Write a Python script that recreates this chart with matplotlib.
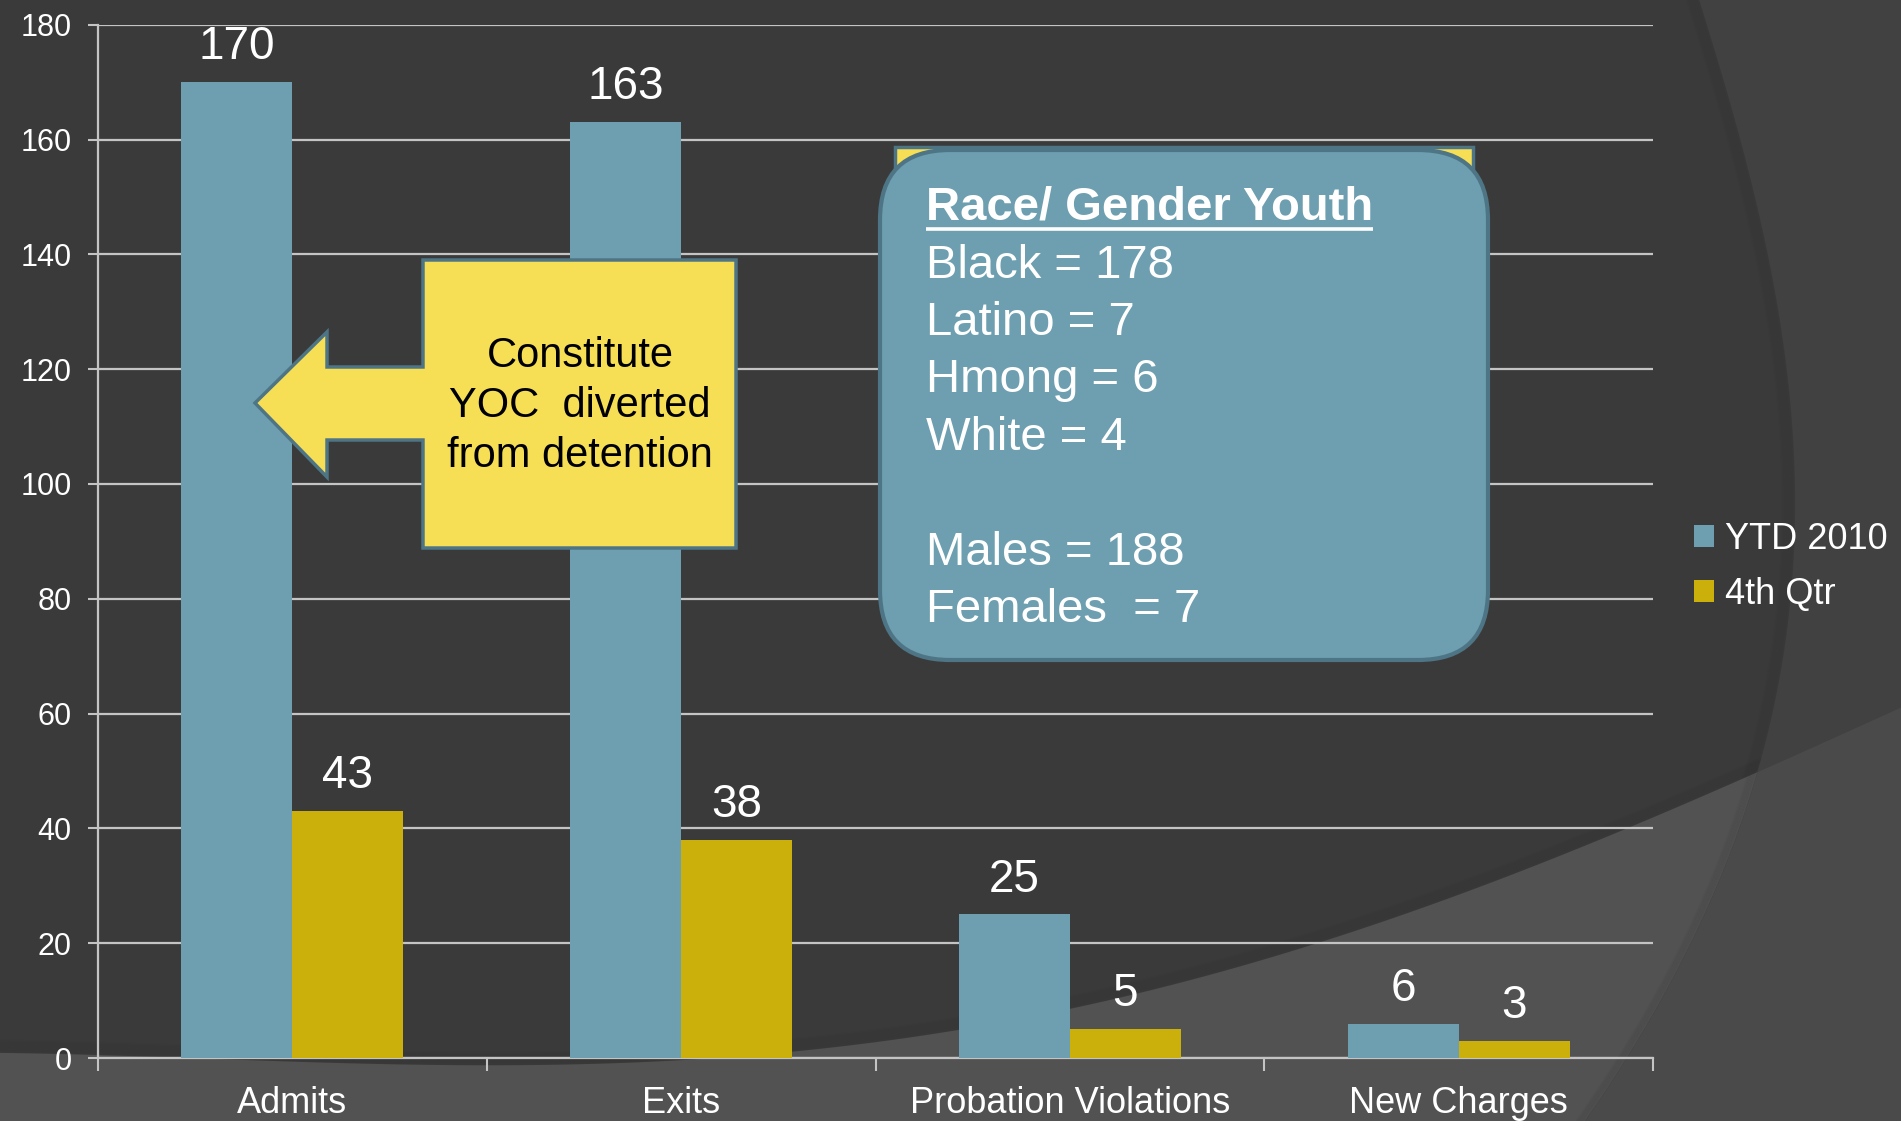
import numpy as np
import matplotlib.pyplot as plt
from matplotlib.patches import Polygon, FancyBboxPatch, Rectangle

plt.rcParams['font.family'] = ['Liberation Sans', 'DejaVu Sans']

# ---------------- data ----------------
categories = ['Admits', 'Exits', 'Probation Violations', 'New Charges']
ytd_2010 = [170, 163, 25, 6]
qtr_4th = [43, 38, 5, 3]
series_names = ['YTD 2010', '4th Qtr']
y_ticks = list(range(0, 181, 20))

callout_text = 'Constitute\nYOC  diverted\nfrom detention'
race_title = 'Race/ Gender Youth'
race_lines = ['Black = 178', 'Latino = 7', 'Hmong = 6', 'White = 4', '',
              'Males = 188', 'Females  = 7']

# ---------------- style ----------------
BG = '#3a3a3a'
BG_RIGHT = '#414141'
BG_BOTTOM = '#525252'
BG_BOTH = '#4a4a4a'
TEAL = '#6d9fb0'
GOLD = '#cbaf0a'
YELLOW = '#f7df55'
EDGE = '#4e7585'
GRID = '#c4c4c4'

W, H = 1901, 1121
fig = plt.figure(figsize=(W / 100, H / 100), dpi=100)
fig.patch.set_facecolor(BG)

# ---------------- background arcs (pixel space) ----------------
bg = fig.add_axes([0, 0, 1, 1], zorder=0)
bg.set_xlim(0, W)
bg.set_ylim(H, 0)
bg.axis('off')

bx = [0, 400, 792, 959, 1070, 1300, 1500, 1758, 1901]
by = [1053, 1064, 1052, 1031, 1008, 948, 879, 773, 707]
xs = np.linspace(-10, W + 10, 400)
ys_b = np.polyval(np.polyfit(bx, by, 4), xs)

ry = [0, 100, 200, 300, 400, 500, 650, 773, 1121]
rx = [1700, 1727, 1757, 1777, 1790, 1795, 1783, 1758, 1585]
yy = np.linspace(-10, H + 10, 400)
xs_r = np.polyval(np.polyfit(ry, rx, 4), yy)

bottom_pts = list(zip(xs, ys_b)) + [(W + 10, H + 10), (-10, H + 10)]
right_pts = list(zip(xs_r, yy)) + [(W + 10, H + 10), (W + 10, -10)]

# soft shadows along the curves
for i in range(1, 11):
    bg.plot(xs, ys_b - i * 1.2, color='black', alpha=0.016, lw=2, zorder=1)
    bg.plot(xs_r - i * 1.2, yy, color='black', alpha=0.016, lw=2, zorder=1)

bottom_patch = Polygon(bottom_pts, closed=True, facecolor=BG_BOTTOM, edgecolor='none', zorder=2)
bg.add_patch(bottom_patch)
bg.add_patch(Polygon(right_pts, closed=True, facecolor=BG_RIGHT, edgecolor='none', zorder=2))
both = Polygon(right_pts, closed=True, facecolor=BG_BOTH, edgecolor='none', zorder=3)
bg.add_patch(both)
both.set_clip_path(bottom_patch)
for i in range(1, 8):
    ln, = bg.plot(xs_r - i * 1.2, yy, color='black', alpha=0.014, lw=2, zorder=4)
    ln.set_clip_path(bottom_patch)

# ---------------- chart ----------------
ax = fig.add_axes([98 / W, 1 - 1058 / H, (1653 - 98) / W, (1058 - 24.7) / H], zorder=1)
ax.set_facecolor('none')

x = np.arange(len(categories))
w = 1 / 3.5
b1 = ax.bar(x - w / 2, ytd_2010, w, color=TEAL, zorder=3, label=series_names[0])
b2 = ax.bar(x + w / 2, qtr_4th, w, color=GOLD, zorder=3, label=series_names[1])

ax.set_xlim(-0.5, len(categories) - 0.5)
ax.set_ylim(0, 180)
ax.set_yticks(y_ticks)
ax.yaxis.grid(True, color=GRID, lw=1.6)
ax.set_axisbelow(True)
for s in ['top', 'right']:
    ax.spines[s].set_visible(False)
for s in ['left', 'bottom']:
    ax.spines[s].set_color(GRID)
    ax.spines[s].set_linewidth(1.6)

ax.set_xticks(np.arange(-0.5, len(categories), 1))
ax.set_xticklabels([])
ax.set_xticks(x, minor=True)
ax.set_xticklabels(categories, minor=True, fontsize=26, color='white')
ax.tick_params(axis='x', which='major', length=9, width=1.5, color=GRID)
ax.tick_params(axis='x', which='minor', length=0, pad=20)
ax.tick_params(axis='y', length=7, width=1.5, color=GRID, pad=12,
               labelsize=22, labelcolor='white')

for bars, vals in [(b1, ytd_2010), (b2, qtr_4th)]:
    for r, v in zip(bars, vals):
        ax.annotate(str(v), (r.get_x() + r.get_width() / 2, v), xytext=(0, 16.5),
                    textcoords='offset points', ha='center', va='baseline',
                    fontsize=33, color='white')

ax.legend(loc='center left', bbox_to_anchor=(1694 / W, 1 - 567 / H),
          bbox_transform=fig.transFigure, frameon=False, fontsize=26,
          labelcolor='white', handlelength=0.55, handleheight=0.55,
          handletextpad=0.3, labelspacing=0.55, borderpad=0, borderaxespad=0)

# ---------------- callouts (pixel space) ----------------
ov = fig.add_axes([0, 0, 1, 1], zorder=5)
ov.set_xlim(0, W)
ov.set_ylim(H, 0)
ov.axis('off')

arrow = [(736, 260), (423, 260), (423, 367), (327, 367), (327, 332), (255, 403),
         (327, 477), (327, 440), (423, 440), (423, 548), (736, 548)]
ov.add_patch(Polygon(arrow, closed=True, facecolor=YELLOW, edgecolor=EDGE, lw=2.5))
ov.text(580, 406, callout_text, ha='center', va='center', fontsize=30,
        color='black', linespacing=1.32)

ov.add_patch(Rectangle((895, 147), 578, 486, facecolor=YELLOW, edgecolor=EDGE, lw=2.5))
ov.add_patch(FancyBboxPatch((880, 150), 608, 510,
                            boxstyle='round,pad=0,rounding_size=70',
                            facecolor=TEAL, edgecolor=EDGE, lw=3))

t = ov.text(926, 220, race_title, ha='left', va='baseline', fontsize=34,
            fontweight='bold', color='white')
for i, line in enumerate(race_lines):
    ov.text(926, 220 + 57.5 * (i + 1), line, ha='left', va='baseline',
            fontsize=34, color='white')

fig.canvas.draw()
bb = t.get_window_extent(fig.canvas.get_renderer())
ov.plot([bb.x0, bb.x1], [229, 229], color='white', lw=2.6, solid_capstyle='butt')

fig.savefig('out.png', dpi=100, facecolor=fig.get_facecolor())
